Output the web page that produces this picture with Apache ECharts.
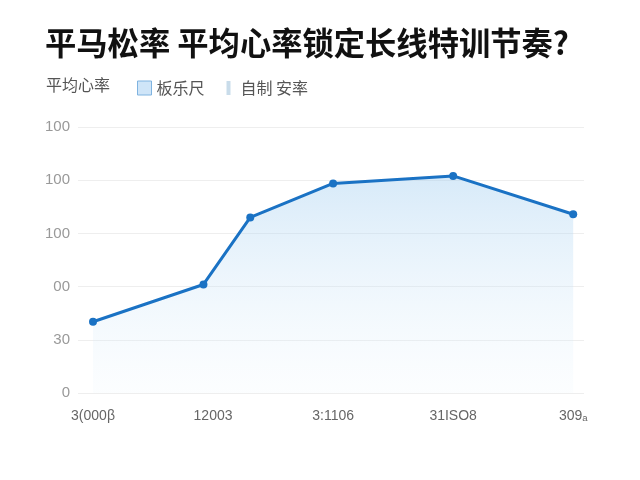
<!DOCTYPE html>
<html><head><meta charset="utf-8">
<script src="https://cdn.jsdelivr.net/npm/echarts@6/dist/echarts.min.js"></script>
<style>html,body{margin:0;padding:0;background:#fff}#c{width:640px;height:480px}</style>
</head><body><div id="c"></div>
<script>
var titleText = '平马松率 平均心率锁定长线特训节奏?';
var xTickValues = [0, 1, 2, 3, 4];
var xTickLabels = ['3(000β', '12003', '3:1106', '31ISO8', '309ₐ'];
var yTickLabels = ['0', '30', '00', '100', '100', '100'];
var xValues = [0, 0.92, 1.31, 2, 3, 4];
var yValues = [67, 102, 165, 197, 204, 168];
var seriesNames = ['板乐尺', '自制 安率'];
var legendLead = '平均心率';

var data = xValues.map(function (x, i) { return [x, yValues[i]]; });
var chart = echarts.init(document.getElementById('c'));
chart.setOption({
  backgroundColor: '#fff',
  animation: false,
  title: {
    text: titleText, left: 40, top: 22,
    textStyle: { fontSize: 31.3, fontWeight: 'bold', color: '#111', fontFamily: 'Noto Sans CJK SC' }
  },
  graphic: [{
    type: 'text', left: 46, top: 77,
    style: { text: legendLead, fontSize: 16, fill: '#555', fontFamily: 'Noto Sans CJK SC' }
  }],
  legend: {
    left: 132, top: 75, itemGap: 22, itemWidth: 14, itemHeight: 14,
    textStyle: { fontSize: 16, color: '#555', fontFamily: 'Noto Sans CJK SC' },
    data: [
      { name: seriesNames[0], icon: 'rect', itemStyle: { color: '#cfe5f8', borderColor: '#7fb3e0', borderWidth: 1 } },
      { name: seriesNames[1], icon: 'path://M0,0H4V14H0Z', itemStyle: { color: '#c9dcea', borderWidth: 0 } }
    ]
  },
  grid: { left: 78, right: 56, top: 127, bottom: 87 },
  xAxis: {
    type: 'value', min: -0.125, max: 4.09,
    splitLine: { show: false }, axisLine: { show: false }, axisTick: { show: false },
    axisLabel: {
      customValues: xTickValues, margin: 16,
      fontSize: 14, color: '#666', fontFamily: 'Liberation Sans',
      formatter: function (v) { var i = xTickValues.indexOf(Math.round(v)); return i >= 0 ? xTickLabels[i] : ''; }
    }
  },
  yAxis: {
    type: 'value', min: 0, max: 250, interval: 50,
    axisLine: { show: false }, axisTick: { show: false },
    splitLine: { lineStyle: { color: '#eeeeee', width: 1 } },
    axisLabel: {
      fontSize: 15, color: '#999', margin: 8, fontFamily: 'Liberation Sans',
      formatter: function (v) { return yTickLabels[Math.round(v / 50)]; }
    }
  },
  series: [
    {
      name: seriesNames[0], type: 'line', data: data,
      symbol: 'circle', symbolSize: 8,
      lineStyle: { color: '#1a72c4', width: 3 },
      itemStyle: { color: '#1a72c4' },
      areaStyle: {
        color: new echarts.graphic.LinearGradient(0, 0, 0, 1, [
          { offset: 0, color: 'rgba(160,205,240,0.6)' },
          { offset: 1, color: 'rgba(230,243,252,0.2)' }
        ])
      }
    },
    { name: seriesNames[1], type: 'line', data: [] }
  ]
});
</script></body></html>
